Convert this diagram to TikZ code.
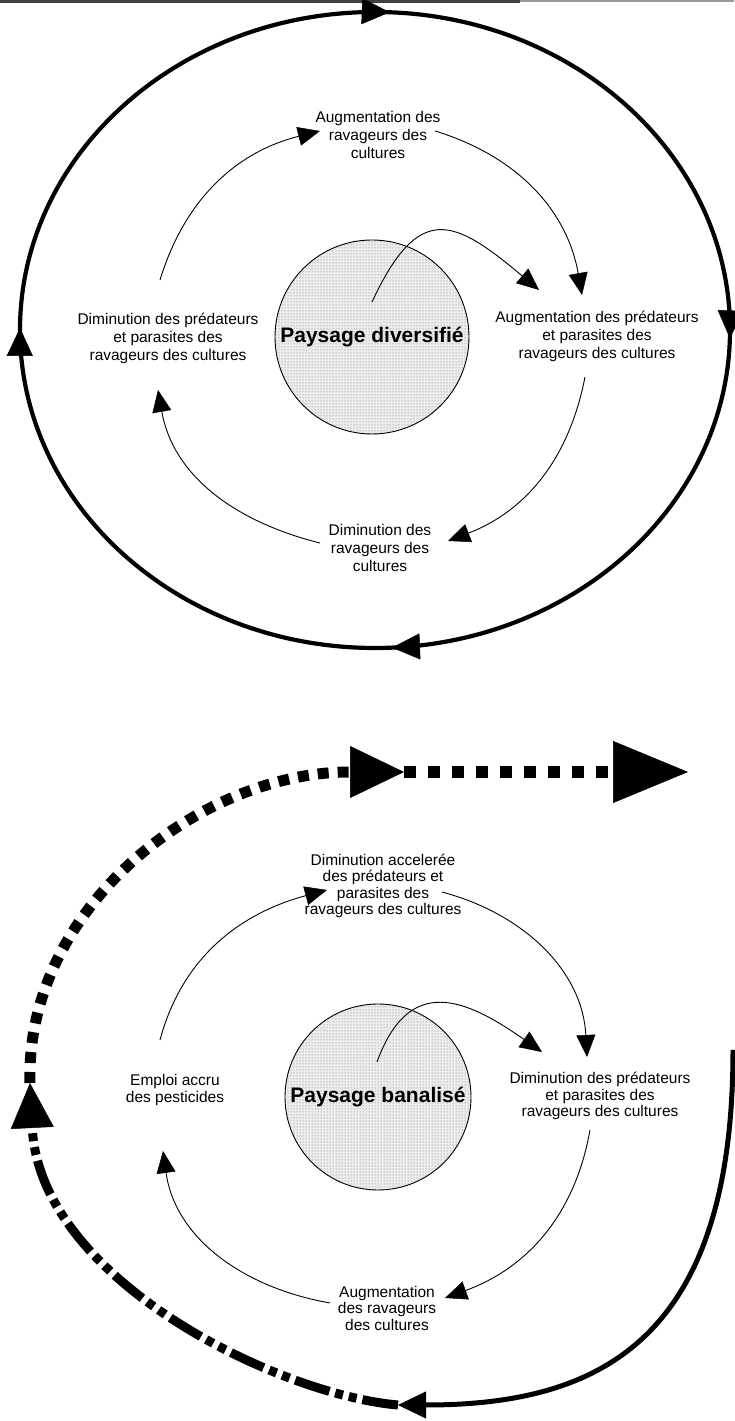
\documentclass[tikz,border=0pt]{standalone}
\usepackage{fontspec}
\setmainfont{Liberation Sans}
\usetikzlibrary{arrows.meta,decorations.markings,patterns}
\begin{document}
\begin{tikzpicture}[x=1pt,y=1pt,
  lab/.style={align=center,font=\fontsize{15.5}{18}\selectfont,inner sep=0pt},
  labb/.style={align=center,font=\fontsize{15.5}{16.5}\selectfont,inner sep=0pt},
  land/.style={circle,draw,line width=0.9pt,minimum size=#1,inner sep=0pt,
      preaction={fill=black!7},pattern=dots,pattern color=black!55,
      font=\fontsize{21}{24}\selectfont\bfseries},
  inarc/.style={line width=0.9pt,-{Triangle[length=22pt,width=19pt,line width=0.5pt]}},
  outerline/.style={line width=4.2pt},
  otiparrow/.style={},
  otip/.style={decoration={markings,
      mark=at position 0.243 with {\arrowreversed{Triangle[length=28pt,width=26pt,line width=0.5pt]}},
      mark=at position 0.499 with {\arrowreversed{Triangle[length=28pt,width=26pt,line width=0.5pt]}},
      mark=at position 0.758 with {\arrowreversed{Triangle[length=28pt,width=26pt,line width=0.5pt]}},
      mark=at position 0.996 with {\arrowreversed{Triangle[length=28pt,width=26pt,line width=0.5pt]}}},
      postaction={decorate}}
]
\useasboundingbox (0,0) rectangle (734,1421);
% top edge line
\fill[black!75] (0,1417.5) rectangle (520,1421);
\fill[black!40] (520,1418.5) rectangle (734,1421);

% ---------------- top diagram ----------------
\coordinate (oc1) at (375,1091);
\draw[outerline,otip] (oc1) ellipse [x radius=355pt, y radius=318pt];

\node[land=194pt] (pd) at (372,1084) {Paysage diversifié};
\node[lab] (t1) at (378,1286) {Augmentation des\\ravageurs des\\cultures};
\node[lab] (r1) at (597,1085) {Augmentation des prédateurs\\et parasites des\\ravageurs des cultures};
\node[lab] (l1) at (168,1083) {Diminution des prédateurs\\et parasites des\\ravageurs des cultures};
\node[lab] (b1) at (380,873) {Diminution des\\ravageurs des\\cultures};

\coordinate (a1s) at (160,1141); \coordinate (a1e) at (320,1290);
\coordinate (a2s) at (435,1290); \coordinate (a2e) at (582,1126);
\coordinate (a3s) at (585,1044); \coordinate (a3e) at (448,880);
\coordinate (a4s) at (320,878);  \coordinate (a4e) at (158,1031);
\draw[inarc] (a1s) to[out=73,in=194] (a1e);
\draw[inarc] (a2s) to[out=-17,in=100] (a2e);
\draw[inarc] (a3s) to[out=-101,in=21] (a3e);
\draw[inarc] (a4s) to[out=166,in=-80] (a4e);
\coordinate (c1s) at (372,1119); \coordinate (c1e) at (539,1131);
\draw[inarc] (c1s) to[out=65,in=140,looseness=1.7] (c1e);

% ---------------- bottom diagram ----------------
\node[land=186pt] (pb) at (378,324) {Paysage banalisé};
\node[labb] (t2) at (383,535) {Diminution accelerée\\des prédateurs et\\parasites des\\ravageurs des cultures};
\node[labb] (r2) at (600,325) {Diminution des prédateurs\\et parasites des\\ravageurs des cultures};
\node[labb] (l2) at (175,331) {Emploi accru\\des pesticides};
\node[labb] (b2) at (387,113) {Augmentation\\des ravageurs\\des cultures};

\coordinate (b1s) at (160,381); \coordinate (b1e) at (327,531);
\coordinate (b2s) at (442,529); \coordinate (b2e) at (587,364);
\coordinate (b3s) at (590,291); \coordinate (b3e) at (445,123);
\coordinate (b4s) at (330,118); \coordinate (b4e) at (163,270);
\draw[inarc] (b1s) to[out=75,in=195] (b1e);
\draw[inarc] (b2s) to[out=-15,in=93] (b2e);
\draw[inarc] (b3s) to[out=-100,in=20] (b3e);
\draw[inarc] (b4s) to[out=170,in=-82] (b4e);
\coordinate (c2s) at (377,359); \coordinate (c2e) at (542,369);
\draw[inarc] (c2s) to[out=70,in=145,looseness=1.45] (c2e);

% outer loop (bottom)
\coordinate (sA) at (733,371);
\coordinate (sB) at (398,16);
\coordinate (dL) at (30,338);
\coordinate (dT) at (404,649);
\coordinate (dR) at (688,649);
\draw[line width=5pt,-{Triangle[length=28pt,width=27pt,line width=0.5pt]}]
  (sA) .. controls (733,81) and (600,16) .. (sB);
\draw[line width=9pt,dash pattern=on 36pt off 6pt on 8pt off 6pt on 8pt off 6pt,
  -{Triangle[length=45pt,width=43pt,line width=0.5pt]}]
  (sB) .. controls (280,26) and (40,140) .. (dL);
\draw[line width=11pt,dash pattern=on 11pt off 9pt,
  -{Triangle[length=54pt,width=52pt,line width=0.5pt]}]
  (dL) .. controls (25,513) and (200,649) .. (dT);
\draw[line width=12pt,dash pattern=on 12pt off 12pt,
  -{Triangle[length=75pt,width=62pt,line width=0.5pt]}]
  (dT) -- (dR);
\end{tikzpicture}
\end{document}
